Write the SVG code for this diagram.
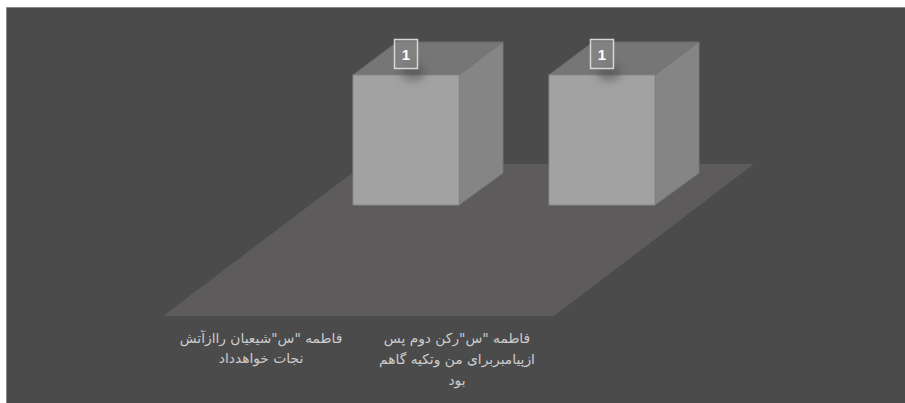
<svg xmlns="http://www.w3.org/2000/svg" width="905" height="403" viewBox="0 0 905 403">
  <defs>
    <filter id="blur" x="-50%" y="-50%" width="200%" height="200%">
      <feGaussianBlur stdDeviation="4"/>
    </filter>
    <style>
      .top { fill: #767676; stroke: #6c6c6c; stroke-width: 1; }
      .side { fill: #858585; stroke: #777777; stroke-width: 1; }
      .front { fill: #a2a2a2; stroke: #888888; stroke-width: 1; }
      .badge { fill: #8a8a8a; fill-opacity: 0.6; stroke: #d6d6d6; stroke-width: 1.5; }
      .badgetxt { font-family: "Liberation Sans", Arial, sans-serif; font-size: 15px; font-weight: bold; fill: #ffffff; text-anchor: middle; }
      .lbl { font-family: "DejaVu Sans", "Noto Sans", sans-serif; font-size: 13.8px; fill: #cccccc; text-anchor: middle; direction: rtl; }
      .shadow { fill: #4a4a4a; opacity: 0.5; filter: url(#blur); }
    </style>
  </defs>
  <rect x="0" y="0" width="905" height="403" fill="#ffffff"/>
  <rect x="6.5" y="7.5" width="899" height="396" fill="#4b4b4b" stroke="#8a8a8a" stroke-width="1"/>

  <g id="plane">
    <polygon points="364,164 754,164 554,316 163,316" fill="#5d5b5c"/>
  </g>

  <g id="cube1">
    <polygon class="top" points="353,75 459,75 503,42 397,42"/>
    <polygon class="side" points="459,75 503,42 503,173 459,205"/>
    <rect class="front" x="353" y="75" width="106" height="130"/>
    <ellipse class="shadow" cx="413" cy="72" rx="12" ry="9"/>
    <rect class="badge" x="394.5" y="39.5" width="23" height="29"/>
    <text class="badgetxt" x="406" y="60">1</text>
  </g>

  <g id="cube2">
    <polygon class="top" points="549,75 655,75 699,42 593,42"/>
    <polygon class="side" points="655,75 699,42 699,173 655,205"/>
    <rect class="front" x="549" y="75" width="106" height="130"/>
    <ellipse class="shadow" cx="609" cy="72" rx="12" ry="9"/>
    <rect class="badge" x="590.5" y="39.5" width="23" height="29"/>
    <text class="badgetxt" x="602" y="60">1</text>
  </g>

  <g id="label1">
    <text class="lbl" x="261" y="343">فاطمه "س"شیعیان راازآتش</text>
    <text class="lbl" x="261" y="363">نجات خواهدداد</text>
  </g>

  <g id="label2">
    <text class="lbl" x="457" y="343">فاطمه "س"رکن دوم  پس</text>
    <text class="lbl" x="457" y="364">ازپیامبربرای من وتکیه گاهم</text>
    <text class="lbl" x="457" y="385">بود</text>
  </g>
</svg>
